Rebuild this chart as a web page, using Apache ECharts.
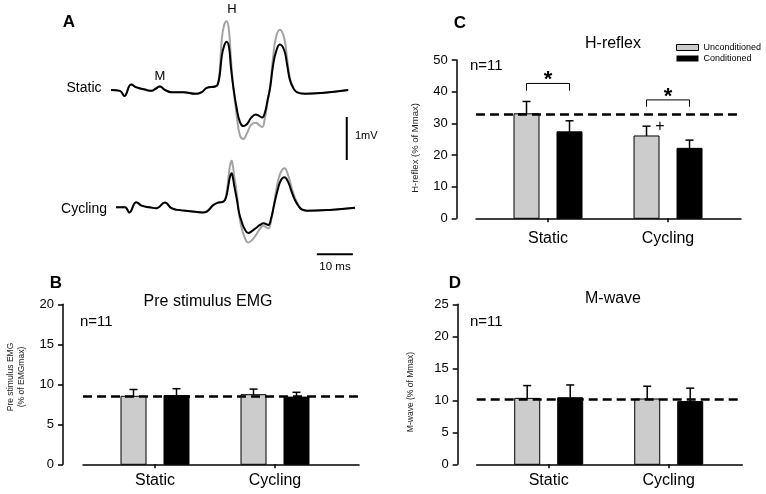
<!DOCTYPE html>
<html>
<head>
<meta charset="utf-8">
<script src="https://cdn.jsdelivr.net/npm/echarts@6/dist/echarts.min.js"></script>
<style>
  html, body { margin: 0; padding: 0; background: #fff; }
  #main { width: 766px; height: 494px; }
</style>
</head>
<body>
<div id="main"></div>
<script>
  // ---- data ----
  const categories = ['Static', 'Cycling'];
  const catPos = [1, 2];

  // pre stimulus EMG (% of EMGmax)
  const preEmgUncond = [8.5, 8.7];
  const preEmgUncondErr = [0.85, 0.7];
  const preEmgCond = [8.6, 8.4];
  const preEmgCondErr = [0.85, 0.6];
  const preEmgRef = 8.5;

  // H-reflex (% of Mmax)
  const hUncond = [33.0, 26.0];
  const hUncondErr = [3.9, 3.1];
  const hCond = [27.3, 22.1];
  const hCondErr = [3.5, 2.6];
  const hRef = 32.8;
  const hBrackets = [42.6, 37.4];      // bracket top per category
  const hBracketLegs = [40.3, 35.2];

  // M-wave (% of Mmax)
  const mUncond = [10.3, 10.2];
  const mUncondErr = [2.0, 2.0];
  const mCond = [10.4, 9.8];
  const mCondErr = [2.0, 2.1];
  const mRef = 10.1;

  // raw traces (ms, mV)
  const tStatic = [0, 2.5, 3.7, 5.6, 7.1, 9.4, 11.3, 12.2, 13.6, 15.0, 16.9, 20.1, 23.5, 25.2, 26.6, 28.9,
    29.6, 30.2, 30.75, 31.4, 32.15, 32.8, 33.3, 34.0, 34.9, 35.8, 36.75, 37.8, 38.9, 40.2, 41.1, 42.0,
    42.8, 43.5, 44.2, 45.0, 45.8, 46.9, 48.1, 48.9, 49.7, 50.6, 51.6, 53.9, 58.5, 65.9];
  const staticCond = [0, -0.02, -0.14, 0.13, 0.06, 0.01, -0.02, 0.02, 0.08, 0, -0.05, -0.05, -0.09, -0.05, 0.05, 0.08,
    0.12, 0.35, 0.77, 1.02, 1.12, 0.98, 0.54, 0.05, -0.42, -0.74, -0.84, -0.79, -0.65, -0.57, -0.6, -0.64,
    -0.51, -0.23, 0.05, 0.56, 0.88, 1.06, 0.93, 0.6, 0.23, 0.05, -0.05, -0.09, -0.07, 0];
  const staticUncond = [0, -0.02, -0.14, 0.13, 0.06, 0.01, -0.02, 0.02, 0.08, 0, -0.05, -0.05, -0.09, -0.05, 0.05, 0.08,
    0.12, 0.45, 1.16, 1.5, 1.6, 1.35, 0.74, 0.05, -0.58, -1.05, -1.14, -1.0, -0.81, -0.76, -0.81, -0.86,
    -0.63, -0.28, 0.09, 0.74, 1.21, 1.4, 1.21, 0.74, 0.28, 0.05, -0.05, -0.09, -0.07, 0];

  const tCycling = [0, 2.5, 3.7, 5.6, 7.1, 9.4, 11.3, 13.6, 15.4, 17.2, 20.6, 24.1, 25.2, 27.0, 28.4,
    29.8, 30.6, 31.3, 31.7, 32.1, 32.45, 32.8, 33.6, 34.2, 34.9, 35.7, 36.75, 37.8, 38.9, 40.0, 40.9, 42.3,
    43.1, 43.9, 44.9, 45.8, 46.8, 47.8, 48.8, 49.7, 50.7, 51.6, 53.0, 59.4, 66.4];
  const cyclingCond = [0, 0, -0.12, 0.12, 0.04, 0, -0.02, 0.11, -0.02, -0.06, -0.09, -0.12, -0.10, 0.05, 0.11,
    0.13, 0.24, 0.55, 0.72, 0.79, 0.7, 0.52, 0.17, -0.13, -0.33, -0.5, -0.6, -0.55, -0.48, -0.41, -0.37, -0.41,
    -0.25, 0.05, 0.4, 0.63, 0.7, 0.59, 0.36, 0.17, 0.03, -0.05, -0.08, -0.06, -0.01];
  const cyclingUncond = [0, 0, -0.12, 0.12, 0.04, 0, -0.02, 0.11, -0.02, -0.06, -0.09, -0.12, -0.10, 0.05, 0.11,
    0.13, 0.28, 0.75, 0.98, 1.08, 0.97, 0.75, 0.29, -0.18, -0.48, -0.69, -0.82, -0.76, -0.64, -0.5, -0.43, -0.49,
    -0.3, 0.08, 0.57, 0.82, 0.91, 0.75, 0.45, 0.22, 0.05, -0.05, -0.08, -0.06, -0.01];

  // scale bars (in cycling trace units)
  const scaleBarMv = [[64.1, 1.1], [64.1, 2.1]];
  const scaleBarMs = [[55.8, -1.09], [65.8, -1.09]];

  // ---- styles ----
  const FONT = 'Liberation Sans, Arial, sans-serif';
  const GRAY = '#cccccc';
  const TRACE_GRAY = '#a3a3a3';
  const BAR_W = 25;
  const BAR_OFF = 21.5;

  const zip = (xs, ys) => xs.map((x, i) => [x, ys[i]]);
  const withErr = (vals, errs) => vals.map((v, i) => [catPos[i], v, errs[i]]);

  function barRender(offsetPx, fill) {
    return (params, api) => {
      const top = api.coord([api.value(0), api.value(1)]);
      const base = api.coord([api.value(0), 0]);
      return {
        type: 'rect',
        shape: { x: top[0] + offsetPx - BAR_W / 2, y: top[1], width: BAR_W, height: base[1] - top[1] },
        style: { fill: fill, stroke: '#000', lineWidth: 1 }
      };
    };
  }

  function errRender(offsetPx) {
    return (params, api) => {
      const x = api.value(0);
      const p1 = api.coord([x, api.value(1)]);
      const p2 = api.coord([x, api.value(1) + api.value(2)]);
      const cx = p1[0] + offsetPx;
      return {
        type: 'group',
        children: [
          { type: 'line', shape: { x1: cx, y1: p1[1], x2: cx, y2: p2[1] }, style: { stroke: '#000', lineWidth: 1.5 } },
          { type: 'line', shape: { x1: cx - 4, y1: p2[1], x2: cx + 4, y2: p2[1] }, style: { stroke: '#000', lineWidth: 1.5 } }
        ]
      };
    };
  }

  function bracketRender(params, api) {
    const x = api.value(0);
    const top = api.coord([x, api.value(1)]);
    const leg = api.coord([x, api.value(2)]);
    const x1 = top[0] - BAR_OFF, x2 = top[0] + BAR_OFF;
    return {
      type: 'group',
      children: [
        { type: 'polyline', shape: { points: [[x1, leg[1]], [x1, top[1]], [x2, top[1]], [x2, leg[1]]] },
          style: { stroke: '#000', lineWidth: 1, fill: null } },
        { type: 'text', x: top[0], y: top[1] - 3,
          style: { text: '*', fontSize: 22, fontWeight: 'bold', fontFamily: FONT, fill: '#000', align: 'center', verticalAlign: 'middle' } }
      ]
    };
  }

  function barPanel(idx, uncond, uncondErr, cond, condErr, ref) {
    const common = { type: 'custom', coordinateSystem: 'cartesian2d', xAxisIndex: idx, yAxisIndex: idx };
    return [
      Object.assign({}, common, {
        name: 'Unconditioned', renderItem: barRender(-BAR_OFF, GRAY), data: withErr(uncond, uncondErr),
        itemStyle: { color: GRAY }, z: 2,
        markLine: {
          silent: true, symbol: 'none', label: { show: false },
          lineStyle: { color: '#000', width: 2.5, type: [9, 5] },
          data: [{ yAxis: ref }]
        }
      }),
      Object.assign({}, common, {
        name: 'Conditioned', renderItem: barRender(BAR_OFF, '#000'), data: withErr(cond, condErr),
        itemStyle: { color: '#000' }, z: 2
      }),
      Object.assign({}, common, { renderItem: errRender(-BAR_OFF), data: withErr(uncond, uncondErr), z: 3 }),
      Object.assign({}, common, { renderItem: errRender(BAR_OFF), data: withErr(cond, condErr), z: 3 })
    ];
  }

  function barXAxis(idx, max, margin) {
    return {
      gridIndex: idx, type: 'value', min: 0.4, max: max,
      axisLine: { show: true, lineStyle: { color: '#000', width: 1.5 } },
      axisTick: { show: true, customValues: catPos, length: 4, lineStyle: { color: '#000', width: 1.5 } },
      axisLabel: { customValues: catPos, formatter: v => categories[Math.round(v) - 1], fontSize: 16,
        color: '#000', fontFamily: FONT, margin: margin },
      splitLine: { show: false }
    };
  }

  function barYAxis(idx, max, interval, offset) {
    return {
      gridIndex: idx, type: 'value', min: 0, max: max, interval: interval, offset: offset,
      axisLine: { show: true, lineStyle: { color: '#000', width: 1.5 } },
      axisTick: { show: true, length: 5, lineStyle: { color: '#000', width: 1.5 } },
      axisLabel: { fontSize: 13, color: '#000', fontFamily: FONT, margin: 9 },
      splitLine: { show: false }
    };
  }

  function traceAxis(idx, min, max) {
    return { gridIndex: idx, type: 'value', min: min, max: max, show: false };
  }

  function trace(idx, t, v, color, z) {
    return {
      type: 'line', xAxisIndex: idx, yAxisIndex: idx, data: zip(t, v), smooth: 0.45,
      showSymbol: false, silent: true, lineStyle: { color: color, width: 2 }, z: z
    };
  }

  function txt(text, x, y, size, opts) {
    return Object.assign({
      type: 'text', x: x, y: y,
      style: { text: text, fontSize: size, fontFamily: FONT, fill: '#000', align: 'center', verticalAlign: 'middle' }
    }, opts || {});
  }

  function bold(text, x, y) {
    return txt(text, x, y, 17, { style: { text: text, fontSize: 17, fontWeight: 'bold', fontFamily: FONT,
      fill: '#000', align: 'center', verticalAlign: 'middle' } });
  }

  function leftTxt(text, x, y, size) {
    return txt(text, x, y, size, { style: { text: text, fontSize: size, fontFamily: FONT, fill: '#000',
      align: 'left', verticalAlign: 'middle' } });
  }

  function yName(text, x, y, size) {
    return txt(text, x, y, size, { rotation: Math.PI / 2, style: { text: text, fontSize: size, lineHeight: 11.5,
      fontFamily: FONT, fill: '#222', align: 'center', verticalAlign: 'middle' } });
  }

  const chart = echarts.init(document.getElementById('main'), null, { renderer: 'canvas' });

  const option = {
    animation: false,
    backgroundColor: '#fff',
    grid: [
      { left: 83, top: 304.3, width: 276, height: 160 },    // B
      { left: 476, top: 60, width: 265, height: 158.3 },    // C
      { left: 476.7, top: 304.3, width: 265.6, height: 160 }, // D
      { left: 111, top: 4, width: 252, height: 150.5 },     // A static
      { left: 116, top: 99.8, width: 252, height: 172 }     // A cycling
    ],
    xAxis: [
      barXAxis(0, 2.7, 8),
      barXAxis(1, 2.608, 12),
      barXAxis(2, 2.613, 8),
      traceAxis(3, 0, 70),
      traceAxis(4, 0, 70)
    ],
    yAxis: [
      barYAxis(0, 20, 5, 20),
      barYAxis(1, 50, 10, 19.3),
      barYAxis(2, 25, 5, 19),
      traceAxis(3, -1.5, 2),
      traceAxis(4, -1.5, 2.5)
    ],
    legend: {
      left: 676, top: 43, padding: 0, orient: 'vertical', itemWidth: 22, itemHeight: 6, itemGap: 2,
      textStyle: { fontSize: 9, fontFamily: FONT, color: '#000' }, selectedMode: false,
      data: [
        { name: 'Unconditioned', icon: 'rect', itemStyle: { color: GRAY, borderColor: '#000', borderWidth: 1 } },
        { name: 'Conditioned', icon: 'rect', itemStyle: { color: '#000' } }
      ]
    },
    series: [].concat(
      barPanel(0, preEmgUncond, preEmgUncondErr, preEmgCond, preEmgCondErr, preEmgRef),
      barPanel(1, hUncond, hUncondErr, hCond, hCondErr, hRef),
      barPanel(2, mUncond, mUncondErr, mCond, mCondErr, mRef),
      [{
        type: 'custom', coordinateSystem: 'cartesian2d', xAxisIndex: 1, yAxisIndex: 1, z: 4,
        renderItem: bracketRender, data: catPos.map((p, i) => [p, hBrackets[i], hBracketLegs[i]])
      }],
      [
        trace(3, tStatic, staticUncond, TRACE_GRAY, 2),
        trace(3, tStatic, staticCond, '#000', 3),
        trace(4, tCycling, cyclingUncond, TRACE_GRAY, 2),
        trace(4, tCycling, cyclingCond, '#000', 3),
        { type: 'line', xAxisIndex: 4, yAxisIndex: 4, data: scaleBarMv, showSymbol: false, silent: true,
          lineStyle: { color: '#000', width: 2 } },
        { type: 'line', xAxisIndex: 4, yAxisIndex: 4, data: scaleBarMs, showSymbol: false, silent: true,
          lineStyle: { color: '#000', width: 2 } }
      ]
    ),
    graphic: [
      bold('A', 69, 22),
      bold('B', 56, 283),
      bold('C', 460, 23),
      bold('D', 455, 283),
      // panel A
      txt('Static', 84, 88, 14),
      txt('Cycling', 84, 209, 14),
      txt('M', 160, 76, 13),
      txt('H', 232, 9, 13),
      leftTxt('1mV', 355, 136, 11),
      txt('10 ms', 335, 267, 11.5),
      // titles
      txt('Pre stimulus EMG', 208, 302, 16),
      txt('H-reflex', 613, 44, 16),
      txt('M-wave', 613, 299, 16),
      leftTxt('n=11', 80, 322, 15),
      leftTxt('n=11', 470, 66, 15),
      leftTxt('n=11', 470, 322, 15),
      txt('+', 660, 127, 16),
      // y axis names
      yName('Pre stimulus EMG\n(% of EMGmax)', 16, 377, 8.5),
      yName('H-reflex (% of Mmax)', 415, 148, 9.5),
      yName('M-wave (% of Mmax)', 411, 392, 8.5)
    ]
  };

  chart.setOption(option);
</script>
</body>
</html>
